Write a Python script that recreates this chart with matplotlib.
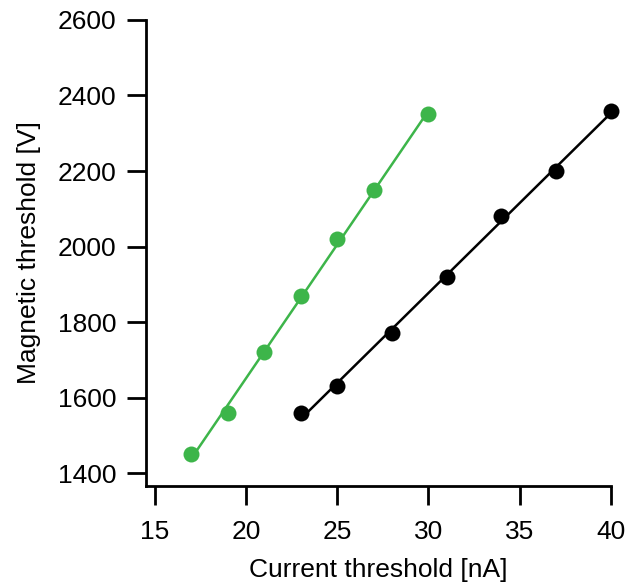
import numpy as np
import matplotlib
matplotlib.use("Agg")
import matplotlib.pyplot as plt

plt.rcParams['font.family'] = ['Liberation Sans', 'DejaVu Sans']

green_x = [17, 19, 21, 23, 25, 27, 30]
green_y = [1450, 1560, 1720, 1870, 2020, 2150, 2350]
black_x = [23, 25, 28, 31, 34, 37, 40]
black_y = [1560, 1630, 1770, 1920, 2080, 2200, 2360]
xticks = [15, 20, 25, 30, 35, 40]
yticks = [1400, 1600, 1800, 2000, 2200, 2400, 2600]

fig = plt.figure(figsize=(6.29, 5.86), dpi=100)
ax = fig.add_axes([0.232, 0.1706, 0.739, 0.7954])

for xs, ys, c in [(green_x, green_y, '#3db54a'), (black_x, black_y, 'black')]:
    xs = np.array(xs, float); ys = np.array(ys, float)
    p = np.polyfit(xs, ys, 1)
    xl = np.array([xs.min(), xs.max()])
    ax.plot(xl, np.polyval(p, xl), color=c, lw=1.8, zorder=2, clip_on=False)
    ax.plot(xs, ys, 'o', color=c, ms=11.5, mec='none', zorder=3, clip_on=False)

ax.set_xlim(14.5, 40)
ax.set_ylim(1366, 2600)
ax.set_xticks(xticks)
ax.set_yticks(yticks)
for s in ['top', 'right']:
    ax.spines[s].set_visible(False)
for s in ['left', 'bottom']:
    ax.spines[s].set_linewidth(2)
ax.tick_params(width=2, length=13.5, labelsize=19)
ax.tick_params(axis='x', pad=11)
ax.tick_params(axis='y', pad=8)
ax.set_xlabel('Current threshold [nA]', fontsize=19, labelpad=10)
ax.set_ylabel('Magnetic threshold [V]', fontsize=19, labelpad=12)

fig.savefig('out.png', dpi=100)
